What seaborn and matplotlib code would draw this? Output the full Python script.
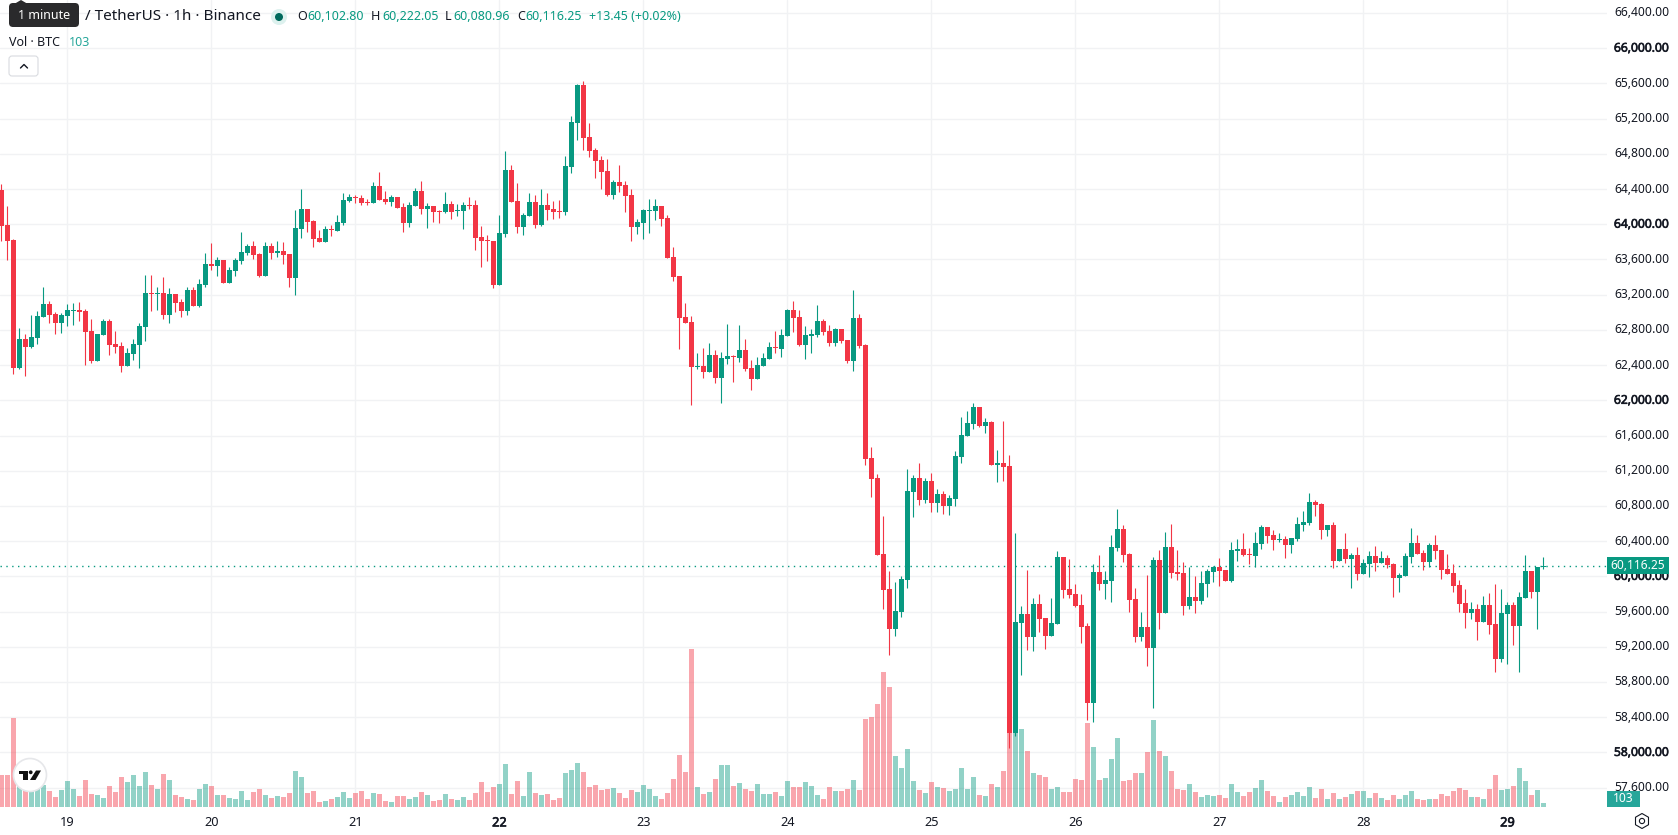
import numpy as np
import pandas as pd
import matplotlib
matplotlib.use("Agg")
import matplotlib.pyplot as plt
import matplotlib.patheffects as pe
from matplotlib.patches import Circle, FancyBboxPatch, Polygon, Rectangle, RegularPolygon
from matplotlib.transforms import ScaledTranslation
import seaborn as sns

# Hourly BTC/USDT candles, oldest first
opens = [
64389,63991,63820,62366,62696,62605,62707,62946,63093,62980,62878,62957,63014,63025,63014,62787,
62446,62741,62900,62639,62616,62389,62525,62628,62832,63218,63207,63218,62968,63207,63116,63014,
63252,63071,63309,63548,63525,63593,63332,63468,63582,63673,63752,63661,63412,63752,63674,63696,
63662,63390,63946,64173,64037,63844,63799,63946,63924,64014,64264,64310,64298,64253,64242,64435,
64287,64253,64310,64196,64014,64208,64378,64173,64208,64151,64139,64230,64151,64151,64219,64219,
63855,63821,63810,63310,63889,64617,64264,63969,64094,64253,63992,64219,64173,64150,64139,64650,
65150,65582,64991,64843,64730,64605,64332,64480,64445,64332,63968,64014,64150,64150,64207,64071,
63628,63412,62946,62889,62378,62389,62321,62514,62253,62469,62503,62480,62571,62366,62242,62390,
62470,62606,62583,62731,63026,62947,62629,62731,62742,62901,62788,62651,62810,62685,62447,62935,
62629,61345,61118,60254,59856,59402,59595,59959,60958,61118,60868,61083,60834,60936,60799,60879,
61356,61595,61731,61924,61708,61754,61265,61288,61254,58221,59470,59572,59311,59686,59527,59322,
59459,60220,59856,59799,59674,59436,58561,60049,59913,59947,60322,60538,60254,59743,59311,59425,
59186,60186,59584,60333,60049,60038,59663,59765,59720,59913,60049,60106,60072,59947,60288,60311,
60254,60231,60367,60561,60470,60413,60425,60357,60425,60584,60606,60845,60822,60527,60584,60175,
60311,60197,60243,60027,60141,60232,60152,60209,60141,59982,60004,60220,60379,60266,60163,60357,
60300,60084,60038,59902,59698,59584,59629,59482,59675,59459,59061,59573,59675,59436,59754,60061,
59823,60102.80]
highs = [
64457,64207,63832,62821,62753,62968,63014,63287,63128,63003,62991,63093,63105,63116,63037,62923,
62753,62923,62923,62787,62662,62593,62696,62878,63423,63423,63287,63400,63275,63207,63150,63287,
63287,63377,63673,63786,63627,63593,63514,63616,63911,63775,63809,63673,63798,63786,63810,63799,
63662,64162,64401,64173,64049,63935,63980,63992,64105,64355,64344,64333,64333,64287,64480,64594,
64378,64333,64310,64242,64253,64412,64492,64242,64208,64162,64367,64264,64230,64253,64310,64276,
63980,63878,63810,64105,64832,64673,64469,64128,64355,64333,64401,64355,64264,64275,64775,65229,
65593,65627,65150,64866,64775,64741,64502,64673,64491,64400,64059,64173,64286,64286,64207,64105,
63741,63412,63105,62957,62537,62594,62650,62571,62548,62866,62514,62855,62696,62457,62492,62538,
62663,62788,62810,63038,63128,63026,62844,62810,63083,62924,62856,62822,62810,62685,63253,62981,
62640,61470,61163,60686,60061,59936,60004,61220,61152,61288,61118,61174,60993,60970,60924,61424,
61811,61879,61970,61924,61799,61765,61436,61765,61379,60492,59663,60072,59754,59799,59527,59754,
60288,60220,60197,59913,59799,59470,60140,60242,60061,60470,60765,60583,60265,59868,59595,60015,
60220,60299,60504,60595,60299,60163,60106,60004,60061,60083,60118,60208,60072,60390,60424,60492,
60322,60504,60583,60561,60527,60493,60459,60436,60675,60743,60947,60868,60834,60584,60618,60311,
60493,60266,60334,60197,60288,60345,60288,60243,60152,60038,60266,60550,60470,60300,60379,60470,
60300,60254,60141,59959,59857,59709,59686,59777,59811,59913,59857,59709,59709,59823,60243,60061,
60107,60222.05]
lows = [
63809,63593,62298,62355,62275,62594,62639,62946,62878,62753,62764,62843,62855,62900,62400,62423,
62446,62741,62514,62537,62321,62389,62457,62366,62673,63014,63025,62923,62878,63003,62946,62968,
63071,63059,63287,63480,63412,63332,63332,63412,63548,63650,63605,63400,63412,63605,63628,63549,
63287,63196,63844,63912,63742,63799,63799,63867,63924,63992,64253,64242,64219,64219,64242,64276,
64230,64208,64185,63912,63969,64208,64117,63958,64026,64014,64128,64060,64094,63946,64173,63708,
63515,63583,63276,63310,63855,64253,63901,63878,64094,63958,63980,64049,64059,64071,64105,64582,
64957,64843,64764,64525,64400,64320,64286,64366,64139,63809,63889,63832,63900,64048,63980,63616,
63355,62582,62878,61946,62355,62253,62321,62196,61969,62412,62207,62434,62332,62116,62242,62390,
62470,62538,62492,62731,62776,62617,62470,62538,62719,62742,62617,62617,62651,62424,62333,62594,
61265,60902,60243,59629,59107,59322,59538,59868,60674,60811,60834,60731,60731,60709,60697,60799,
61288,61595,61674,61697,61629,61265,61072,61083,58050,58190,58879,59163,59152,59368,59175,59322,
59459,59754,59754,59652,59243,58368,58345,59845,59743,59708,60288,60163,59595,59254,59265,58981,
58504,59402,59584,59981,59958,59561,59629,59584,59686,59765,59936,59890,59947,59936,60174,60231,
60140,60106,60311,60379,60300,60391,60209,60266,60402,60516,60584,60686,60425,60459,60095,60175,
60152,59868,59959,60027,59993,60061,60152,60095,59766,59823,60004,60152,60254,60072,60107,60197,
59970,60027,59823,59595,59414,59516,59277,59482,59345,58914,59027,59005,59220,58914,59754,59754,
59402,60080.96]
closes = [
63980,63809,62366,62696,62605,62718,62957,63093,62968,62878,62968,63025,63025,63003,62775,62446,
62753,62900,62628,62605,62389,62537,62639,62843,63218,63207,63218,62968,63207,63105,63014,63252,
63071,63321,63548,63525,63593,63332,63480,63593,63684,63752,63650,63412,63752,63673,63696,63651,
63390,63958,64173,64026,63833,63799,63946,63935,64026,64276,64310,64298,64242,64242,64435,64276,
64253,64310,64185,64014,64219,64378,64173,64208,64139,64139,64230,64139,64162,64219,64208,63844,
63810,63810,63310,63901,64617,64253,63969,64105,64253,63992,64219,64162,64139,64139,64661,65161,
65582,64979,64832,64718,64593,64332,64480,64434,64320,63968,64025,64161,64161,64207,64059,63616,
63400,62934,62878,62378,62389,62321,62514,62253,62480,62503,62491,62571,62355,62241,62401,62481,
62606,62594,62742,63026,62935,62629,62742,62754,62901,62776,62651,62810,62674,62447,62935,62617,
61333,61106,60243,59845,59402,59606,59970,60970,61118,60868,61083,60834,60936,60799,60890,61367,
61606,61742,61924,61708,61754,61265,61288,61243,58221,59481,59572,59311,59686,59515,59322,59470,
60220,59845,59788,59663,59424,58561,60049,59913,59958,60333,60538,60242,59731,59311,59425,59186,
60186,59584,60333,60038,60027,59663,59765,59720,59924,60061,60106,60061,59947,60299,60311,60242,
60242,60379,60561,60458,60413,60425,60357,60436,60595,60618,60845,60811,60527,60584,60175,60311,
60197,60243,60027,60152,60232,60152,60209,60129,59982,60016,60232,60379,60254,60163,60357,60288,
60072,60027,59891,59686,59584,59629,59482,59675,59448,59061,59584,59675,59436,59766,60061,59823,
60107,60116.25]
volumes = [
865,865,2420,770,550,500,590,590,430,265,455,700,480,290,730,345,
320,235,565,400,810,675,865,565,945,590,480,890,730,320,265,210,
180,480,620,565,320,320,235,210,430,180,400,480,320,235,290,265,
375,975,810,375,430,130,155,210,265,400,235,375,430,210,375,345,
155,130,290,290,210,265,400,320,155,180,345,210,180,265,180,375,
675,400,535,620,1165,345,700,290,945,375,320,345,180,235,920,1000,
1190,945,535,590,455,480,510,375,235,455,400,590,480,290,210,375,
755,1410,945,4305,535,345,400,755,1140,1140,565,645,480,430,620,345,
345,400,290,700,535,535,675,565,320,210,535,430,430,480,730,455,
2395,2450,2805,3675,3265,1385,1055,1575,700,455,375,675,535,510,430,480,
1055,480,810,320,290,620,535,975,2175,2175,2120,1520,920,865,810,480,
535,400,400,755,730,2285,1630,730,785,1300,1875,700,730,920,920,1490,
2365,1520,1385,975,480,455,620,400,265,320,290,320,235,620,400,290,
400,510,730,430,290,130,265,320,400,290,535,235,480,210,375,210,
265,345,430,430,235,375,235,180,320,210,320,430,210,180,210,210,
345,290,430,510,455,265,265,210,480,865,455,480,565,1055,700,320,
455,103]
hours = np.arange(-11, 247)  # hours relative to the 19th, 00:00

day_ticks = np.arange(0, 241, 24)
day_labels = ["19", "20", "21", "22", "23", "24", "25", "26", "27", "28", "29"]
bold_days = {"22", "29"}
price_ticks = np.arange(57600, 66401, 400)
bold_prices = {58000, 60000, 62000, 64000, 66000}

last_open, last_high, last_low, last_close = 60102.80, 60222.05, 60080.96, 60116.25
last_change, last_change_pct = 13.45, 0.02
last_volume = 103

UP = "#089981"
DOWN = "#F23645"
GRID = "#F1F2F4"
INK = "#131722"

W, H, PANE_R, PANE_B = 1678, 835, 1607, 807

sns.set_theme(style="white")
plt.rcParams["font.family"] = ["Noto Sans", "DejaVu Sans"]

frame = pd.DataFrame({"hour": hours, "open": opens, "high": highs, "low": lows,
                      "close": closes, "volume": volumes})
frame["direction"] = np.where(frame["close"] >= frame["open"], "up", "down")
frame["color"] = frame["direction"].map({"up": UP, "down": DOWN})

fig = plt.figure(figsize=(W / 100, H / 100), dpi=100, facecolor="white")
pane = [0, (H - PANE_B) / H, PANE_R / W, PANE_B / H]
heavy = [pe.withStroke(linewidth=0.45, foreground=INK)]

# Volume pane sits underneath and carries the grid
ax_vol = fig.add_axes(pane, zorder=1)
sns.barplot(data=frame, x="hour", y="volume", hue="direction",
            palette={"up": UP, "down": DOWN}, native_scale=True, dodge=False,
            width=0.84, alpha=0.44, saturation=1, errorbar=None, legend=False,
            linewidth=0, ax=ax_vol)
ax_vol.set_ylim(0, 22030)
ax_vol.set_yticks([])
ax_vol.set_xlabel("")
ax_vol.set_ylabel("")

# Price pane on top
ax = fig.add_axes(pane, zorder=2)
ax.patch.set_alpha(0)
ax.vlines(frame["hour"], frame["low"], frame["high"], colors=frame["color"], linewidth=0.8, zorder=3)
ax.bar(frame["hour"], (frame["close"] - frame["open"]).abs(),
       bottom=frame[["open", "close"]].min(axis=1), width=0.84,
       color=frame["color"], linewidth=0, zorder=4)
ax.set_ylim(57380, 66547)
ax.set_yticks(price_ticks)
ax.set_yticklabels([f"{p:,.2f}" for p in price_ticks], fontsize=8.7, color=INK)
ax.yaxis.tick_right()
ax.tick_params(axis="y", length=0, pad=5)
nudge_up = ScaledTranslation(0, 1.5 / 100, fig.dpi_scale_trans)
for tick, p in zip(ax.get_yticklabels(), price_ticks):
    tick.set_transform(tick.get_transform() + nudge_up)
    if p in bold_prices:
        tick.set_path_effects(heavy)
ax.set_xticks(day_ticks)
ax.set_xticklabels(day_labels, fontsize=9.2, color=INK)
ax.tick_params(axis="x", length=0, pad=6.8)
for tick, d in zip(ax.get_xticklabels(), day_labels):
    if d in bold_days:
        tick.set_path_effects(heavy)
ax.axhline(last_close, color=UP, linewidth=1.0, linestyle=(0, (1, 3.2)), zorder=2)

for a in (ax, ax_vol):
    a.set_xlim(-11.22, 256.6)
    for spine in a.spines.values():
        spine.set_visible(False)
ax_vol.set_xticks([])

# Grid lines belong to the lower pane so bars and candles cover them
for p in price_ticks:
    ax_vol.axhline((p - 57380) / (66547 - 57380) * 22030, color=GRID, linewidth=1.0, zorder=0)
for d in day_ticks:
    ax_vol.axvline(d, color=GRID, linewidth=1.0, zorder=0)

# Chart furniture, laid out in figure pixels
ui = fig.add_axes([0, 0, 1, 1], zorder=5)
ui.set_xlim(0, W)
ui.set_ylim(H, 0)
ui.axis("off")


def label(x, y, s, size, color=INK, ha="left", weight="normal"):
    ui.text(x, y, s, fontsize=size * 0.72, color=color, ha=ha, va="center", fontweight=weight)


# Tooltip over the symbol name
ui.add_patch(FancyBboxPatch((11, 5), 66, 20, boxstyle="round,pad=2,rounding_size=4",
                            facecolor="#2A2A2C", edgecolor="none"))
ui.add_patch(Polygon([[15, 3.5], [21, 0], [27, 3.5]], facecolor="#2A2A2C", edgecolor="none"))
label(44, 15.5, "1 minute", 12.5, color="white", ha="center")

# Legend row
label(85, 17, "/ TetherUS · 1h · Binance", 15.3)
ui.add_patch(Circle((279, 17), 8, facecolor="#DDF1EE", edgecolor="none"))
ui.add_patch(Circle((279, 17), 4, facecolor="#00695C", edgecolor="none"))
for x_letter, letter, x_value, value in [
    (297, "O", 307.5, last_open), (371, "H", 382, last_high),
    (445, "L", 453, last_low), (517, "C", 525.5, last_close),
]:
    label(x_letter, 17, letter, 12.5)
    label(x_value, 17, f"{value:,.2f}", 12.5, color=UP)
label(589, 17, f"+{last_change:.2f} (+{last_change_pct:.2f}%)", 12.5, color=UP)
label(9, 42, "Vol · BTC", 12.5)
label(69, 42, str(last_volume), 12.5, color="#26A69A")

# Collapse button
ui.add_patch(FancyBboxPatch((11, 58), 25, 16, boxstyle="round,pad=2,rounding_size=3",
                            facecolor="white", edgecolor="#D9DBE0", linewidth=0.8))
ui.plot([20.5, 24, 27.5], [68, 64.5, 68], color=INK, linewidth=1.0)

# Last price and last volume tags
ui.add_patch(Rectangle((1607, 557), 62, 17, facecolor=UP, edgecolor="none"))
label(1638, 565.5, f"{last_close:,.2f}", 12, color="white", ha="center")
ui.add_patch(Rectangle((1607, 791), 33, 16, facecolor="#26A69A", edgecolor="none"))
label(1623.5, 799, str(last_volume), 12, color="white", ha="center")

# Settings hexagon
ui.add_patch(RegularPolygon((1642, 821), 6, radius=7.5, orientation=np.pi / 3,
                            facecolor="white", edgecolor=INK, linewidth=0.8))
ui.add_patch(Circle((1642, 821), 2.6, facecolor="white", edgecolor=INK, linewidth=0.8))

# Logo badge
ui.add_patch(Circle((30, 775), 16.5, facecolor="white", edgecolor="#E6E7EA", linewidth=1.2))
ui.add_patch(Polygon([[18.5, 770.5], [28, 770.5], [28, 780], [23, 780], [23, 774], [18.5, 774]],
                     facecolor="#111111", edgecolor="none"))
ui.add_patch(Circle((30.7, 772.3), 1.9, facecolor="#111111", edgecolor="none"))
ui.add_patch(Polygon([[36, 770.5], [41, 770.5], [35.5, 780], [30, 780]],
                     facecolor="#111111", edgecolor="none"))

fig.savefig("out.png", dpi=100)
